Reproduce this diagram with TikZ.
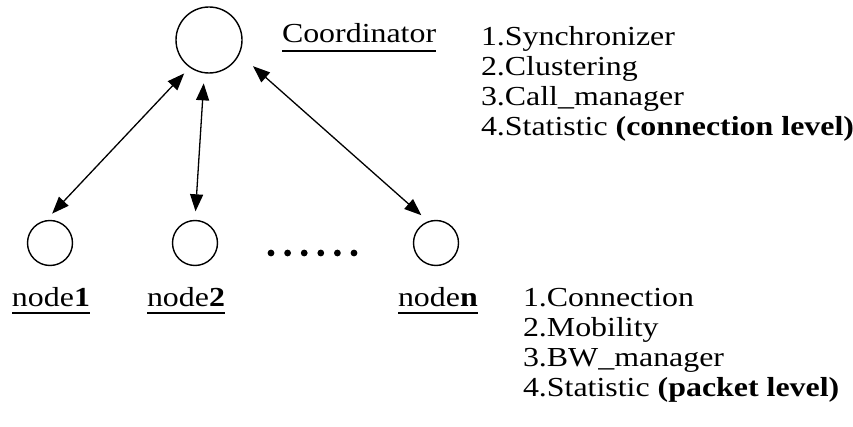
\documentclass[tikz,border=0pt]{standalone}
\usepackage{fontspec}
\setmainfont{Liberation Serif}[FakeStretch=1.16]
\usetikzlibrary{arrows.meta}

\begin{document}
\begin{tikzpicture}[x=1pt, y=-1pt,
  every node/.style={font=\fontsize{27.5}{30}\selectfont},
  host/.style={circle, draw, line width=1.4pt, inner sep=0pt},
  label/.style={anchor=base west, inner sep=0pt, outer sep=0pt},
  link/.style={{Triangle[length=17pt,width=13pt]}-{Triangle[length=17pt,width=13pt]}, line width=1.3pt},
  uline/.style={line width=1.8pt}]
  \useasboundingbox (0,0) rectangle (853,427);

  % coordinator and the hosts
  \node[host, minimum size=66pt] (co) at (209,40) {};
  \node[host, minimum size=45pt] (n1) at (50,243) {};
  \node[host, minimum size=45pt] (n2) at (195,243) {};
  \node[host, minimum size=45pt] (nn) at (436,243) {};

  % two-way links
  \draw[link, shorten <=8pt, shorten >=9pt] (co.235) -- (n1.100);
  \draw[link, shorten <=10pt, shorten >=8.5pt] (co.262) -- (n2.90);
  \draw[link, shorten <=18pt, shorten >=9pt] (co.335) -- (nn.110);

  % ellipsis between the hosts
  \foreach \i in {0,...,5}
    \fill (271+16.6*\i,253) circle (3.4pt);

  % underlined names
  \node[label] (tco) at (282,43) {Coordinator};
  \draw[uline] ([yshift=-8pt]tco.base west) -- ([yshift=-8pt]tco.base east);
  \node[label] (t1) at (12,306) {node\textbf{1}};
  \draw[uline] ([yshift=-7pt]t1.base west) -- ([yshift=-7pt]t1.base east);
  \node[label] (t2) at (147,306) {node\textbf{2}};
  \draw[uline] ([yshift=-7pt]t2.base west) -- ([yshift=-7pt]t2.base east);
  \node[label] (tn) at (398,306) {node\textbf{n}};
  \draw[uline] ([yshift=-7pt]tn.base west) -- ([yshift=-7pt]tn.base east);

  % coordinator modules
  \node[label] (c1) at (481,46) {1.Synchronizer};
  \node[label] (c2) at (481,76) {2.Clustering};
  \node[label] (c3) at (481,106) {3.Call\_manager};
  \node[label] (c4) at (481,136) {4.Statistic \textbf{(connection level)}};

  % host modules
  \node[label] (h1) at (523,306) {1.Connection};
  \node[label] (h2) at (523,336) {2.Mobility};
  \node[label] (h3) at (523,366) {3.BW\_manager};
  \node[label] (h4) at (523,396) {4.Statistic \textbf{(packet level)}};
\end{tikzpicture}
\end{document}
